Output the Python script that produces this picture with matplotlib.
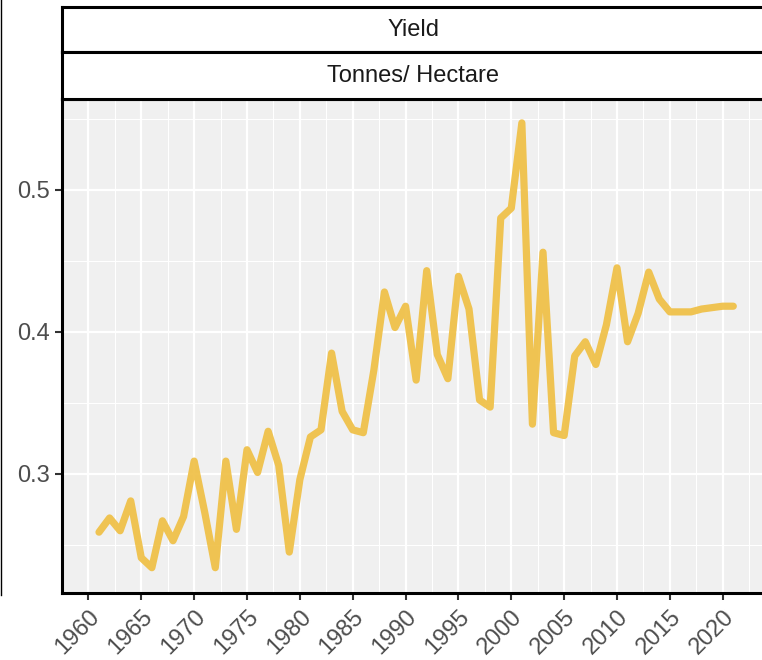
import matplotlib
matplotlib.use("Agg")
import matplotlib.pyplot as plt
from matplotlib.lines import Line2D

plt.rcParams['font.family'] = ['Liberation Sans', 'DejaVu Sans']

years = list(range(1961, 2022))
yield_t_ha = [0.259, 0.269, 0.260, 0.281, 0.241, 0.234, 0.267, 0.253, 0.270, 0.309,
              0.273, 0.234, 0.309, 0.261, 0.317, 0.301, 0.330, 0.306, 0.245, 0.296,
              0.326, 0.331, 0.385, 0.344, 0.331, 0.329, 0.373, 0.428, 0.403, 0.418,
              0.366, 0.443, 0.384, 0.367, 0.439, 0.416, 0.352, 0.347, 0.480, 0.487,
              0.547, 0.335, 0.456, 0.329, 0.327, 0.383, 0.393, 0.377, 0.405, 0.445,
              0.393, 0.413, 0.442, 0.423, 0.414, 0.414, 0.414, 0.416, 0.417, 0.418,
              0.418]
x_ticks = list(range(1960, 2021, 5))
y_ticks = [0.3, 0.4, 0.5]
strip_labels = ["Yield", "Tonnes/ Hectare"]

W, H = 762, 660
fig = plt.figure(figsize=(W / 100, H / 100), dpi=100)

# main panel (right edge runs slightly past the image, as in the original)
ax = fig.add_axes([62 / W, 1 - 593 / H, (765 - 62) / W, (593 - 99) / H])
ax.set_facecolor("#F0F0F0")
ax.plot(years, yield_t_ha, color="#EFBF45", alpha=0.92, lw=5.2,
        solid_joinstyle="round", solid_capstyle="round", zorder=3)

ax.set_xlim(1958, 2024)
ax.set_ylim(0.2162, 0.5638)
ax.set_xticks(x_ticks)
ax.set_xticks([t + 2.5 for t in x_ticks[:-1]] + [1957.5, 2022.5], minor=True)
ax.set_yticks(y_ticks)
ax.set_yticks([0.25, 0.35, 0.45, 0.55], minor=True)
ax.set_yticklabels([f"{v:.1f}" for v in y_ticks])
ax.set_xticklabels([str(t) for t in x_ticks], rotation=45, ha="right",
                   rotation_mode="anchor")
ax.grid(which="major", color="white", lw=1.6)
ax.grid(which="minor", color="white", lw=0.8)
ax.set_axisbelow(True)
ax.tick_params(which="major", length=5, width=1.5, color="#333333",
               labelcolor="#4D4D4D", labelsize=17, pad=4)
ax.tick_params(which="minor", length=0)
for side in ["left", "bottom", "top"]:
    ax.spines[side].set_linewidth(2.2)
    ax.spines[side].set_color("black")
ax.spines["right"].set_visible(False)

# facet strips
strip_px = [(7, 52), (52, 99)]
for (top, bot), label in zip(strip_px, strip_labels):
    sax = fig.add_axes([62 / W, 1 - bot / H, (765 - 62) / W, (bot - top) / H])
    sax.set_facecolor("white")
    sax.set_xticks([])
    sax.set_yticks([])
    for side in ["left", "bottom", "top"]:
        sax.spines[side].set_linewidth(2.2)
        sax.spines[side].set_color("black")
    sax.spines["right"].set_visible(False)
    sax.text((413 - 62) / (765 - 62), 0.5, label, transform=sax.transAxes,
             ha="center", va="center", fontsize=17, color="#1A1A1A")

# thin vertical rule at the far left
fig.add_artist(Line2D([1 / W, 1 / W], [1, 1 - 595 / H], transform=fig.transFigure,
                      color="black", lw=1))

fig.savefig("out.png", dpi=100)
